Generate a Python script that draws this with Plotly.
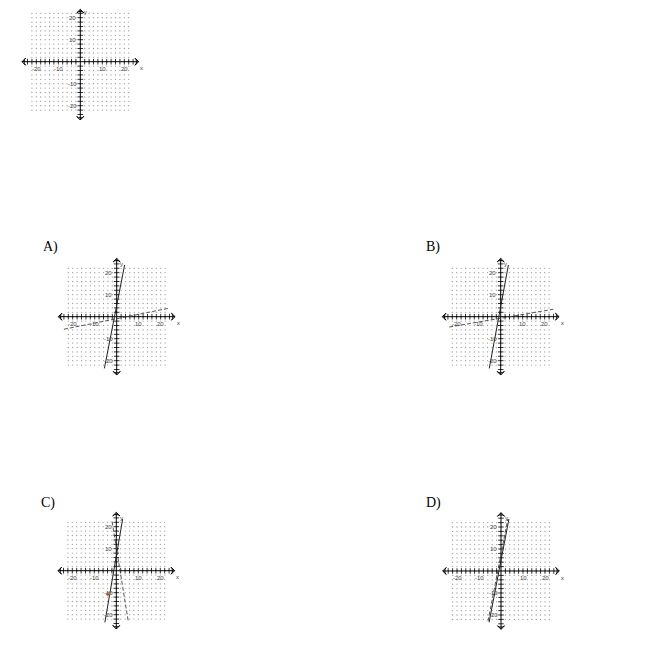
import numpy as np
import plotly.graph_objects as go

# panel names and where their origins sit on the page (pixels)
panels = ["top", "A", "B", "C", "D"]
origin_px = {"top": (80.3, 61.7), "A": (116.7, 316.7), "B": (500.7, 316.7),
             "C": (116.3, 570.7), "D": (501.0, 571.0)}

# answer lines, as endpoints (x, y)
solid_x = {"A": [-5.6, 3.6], "B": [-5.2, 3.5], "C": [-5.2, 2.9], "D": [-5.4, 3.6]}
solid_y = {"A": [-23.5, 23.5], "B": [-23.5, 23.5], "C": [-23.5, 23.5], "D": [-23.3, 23.6]}
dash_x = {"A": [-24.0, 23.5], "B": [-23.4, 23.9], "C": [-1.9, 5.5], "D": [-5.9, 3.1]}
dash_y = {"A": [-5.7, 3.8], "B": [-4.7, 3.4], "C": [22.3, -23.4], "D": [-22.8, 23.6]}

# small brown mark in C
mark_x = [-3.8]
mark_y = [-10.6]

grid_vals = list(range(-22, 23, 2))
tick_vals = [v for v in range(-24, 25, 2) if v != 0]
x_labels = ["-20", "-10", "10", "20"]
x_label_pos = [-20, -10, 10, 20]
y_labels = ["20", "10", "-10", "-20"]
y_label_pos = [20, 10, -10, -20]
answer_labels = {"A": (50, 247), "B": (433, 247), "C": (48, 503), "D": (433, 503)}

W, H = 650, 663
page_shift = 8    # the page body adds a margin round the plot
scale = 2.2       # px per unit
half = 28         # axis range half width
axis_end = 26.5

fig = go.Figure()
layout = dict(width=W, height=H, margin=dict(l=0, r=0, t=0, b=0),
              paper_bgcolor="white", plot_bgcolor="white", showlegend=False)
annotations = []

gx, gy = np.meshgrid(grid_vals, grid_vals)
lab_font = dict(family="Liberation Sans", size=6, color="#444444")

for i, p in enumerate(panels):
    n = "" if i == 0 else str(i + 1)
    xa, ya = "x" + n, "y" + n
    cx, cy = origin_px[p]
    cx -= page_shift
    cy -= page_shift
    hp = half * scale
    top_px = min(hp, cy)
    y_top = top_px / scale
    y_end = min(axis_end, y_top - 0.6)
    layout["xaxis" + n] = dict(domain=[(cx - hp) / W, (cx + hp) / W], range=[-half, half],
                               visible=False, fixedrange=True)
    layout["yaxis" + n] = dict(domain=[1 - (cy + hp) / H, 1 - (cy - top_px) / H], range=[-half, y_top],
                               visible=False, fixedrange=True)

    # dotted grid
    fig.add_trace(go.Scatter(x=gx.ravel(), y=gy.ravel(), mode="markers", xaxis=xa, yaxis=ya,
                             marker=dict(size=1.3, color="#9a9a9a"), hoverinfo="skip"))
    # axes
    fig.add_trace(go.Scatter(x=[-axis_end, axis_end], y=[0, 0], mode="lines", xaxis=xa, yaxis=ya,
                             line=dict(color="black", width=1), hoverinfo="skip"))
    fig.add_trace(go.Scatter(x=[0, 0], y=[-axis_end, y_end], mode="lines", xaxis=xa, yaxis=ya,
                             line=dict(color="black", width=1), hoverinfo="skip"))
    # tick marks
    fig.add_trace(go.Scatter(x=tick_vals, y=[0] * len(tick_vals), mode="markers", xaxis=xa, yaxis=ya,
                             marker=dict(symbol="line-ns", size=4, line=dict(width=0.8, color="black")),
                             hoverinfo="skip"))
    y_ticks = [v for v in tick_vals if v < y_end - 1]
    fig.add_trace(go.Scatter(x=[0] * len(y_ticks), y=y_ticks, mode="markers", xaxis=xa, yaxis=ya,
                             marker=dict(symbol="line-ew", size=4, line=dict(width=0.8, color="black")),
                             hoverinfo="skip"))
    # arrow heads
    fig.add_trace(go.Scatter(x=[axis_end, -axis_end, 0, 0], y=[0, 0, y_end, -axis_end],
                             mode="markers", xaxis=xa, yaxis=ya, cliponaxis=False,
                             marker=dict(symbol="arrow-wide-open", size=5, angle=[90, 270, 0, 180],
                                         color="black", line=dict(width=1, color="black")),
                             hoverinfo="skip"))

    if p in solid_x:
        fig.add_trace(go.Scatter(x=solid_x[p], y=solid_y[p], mode="lines", xaxis=xa, yaxis=ya,
                                 line=dict(color="#222222", width=1), hoverinfo="skip"))
        fig.add_trace(go.Scatter(x=dash_x[p], y=dash_y[p], mode="lines", xaxis=xa, yaxis=ya,
                                 line=dict(color="#444444", width=0.9, dash="4px,2px"), hoverinfo="skip"))
    if p == "C":
        fig.add_trace(go.Scatter(x=mark_x, y=mark_y, mode="markers", xaxis=xa, yaxis=ya,
                                 marker=dict(size=4, color="#c98457"), hoverinfo="skip"))

    for t, v in zip(x_labels, x_label_pos):
        annotations.append(dict(x=v, y=-3.4, xref=xa, yref=ya, text=t, showarrow=False, font=lab_font))
    for t, v in zip(y_labels, y_label_pos):
        annotations.append(dict(x=-3.6, y=v, xref=xa, yref=ya, text=t, showarrow=False, font=lab_font))
    annotations.append(dict(x=28, y=-3, xref=xa, yref=ya, text="x", showarrow=False, font=lab_font))
    annotations.append(dict(x=2.4, y=min(24, y_end - 1), xref=xa, yref=ya, text="y",
                            showarrow=False, font=lab_font))

for p, (lx, ly) in answer_labels.items():
    annotations.append(dict(x=(lx - page_shift) / W, y=1 - (ly - page_shift) / H,
                            xref="paper", yref="paper", xanchor="center", yanchor="middle",
                            text=p + ")", showarrow=False,
                            font=dict(family="Liberation Serif", size=14, color="black")))

layout["annotations"] = annotations
fig.update_layout(**layout)
fig.write_html("out.html")
